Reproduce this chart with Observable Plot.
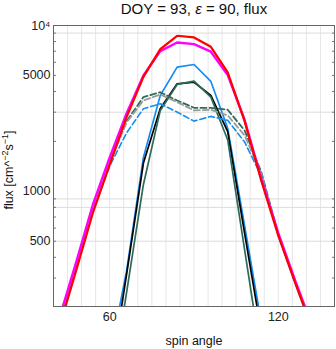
<!DOCTYPE html>
<html><head><meta charset="utf-8">
<script src="https://cdn.jsdelivr.net/npm/d3@7"></script>
<script src="https://cdn.jsdelivr.net/npm/@observablehq/plot@0.6"></script>
<style>body{margin:0;background:#fff}svg{display:block}</style>
</head><body><div id="chart"></div>
<script>
// spin angle samples (deg)
const angles = [42,48,54,60,66,72,78,84,90,96,102,108,114,120,126,132];
// flux series (cm^-2 s^-1); null = not drawn
const red      = [150,330,740,1450,2800,4900,7200,8670,8470,7440,5210,2650,1150,540,280,150];
const magenta  = [170,370,830,1600,2950,5000,7000,7900,7720,6950,5020,2700,1180,560,290,155];
const blueSolid= [null,null,null,100,330,1600,3790,5610,5820,4600,2400,620,160,null,null,null];
const black    = [null,null,null,70,315,1480,3160,4450,4550,3790,2290,560,140,null,null,null];
const greenSolid=[null,null,null,55,245,1100,3075,4410,4620,3700,2040,445,98,null,null,null];
const greenDash= [155,345,770,1500,2650,3700,3960,3530,3190,3190,3105,2330,1300,550,285,150];
const grayDash = [155,345,765,1490,2600,3530,3840,3450,3075,3105,2870,2175,1270,545,283,150];
const blueDash = [152,340,750,1420,2250,3150,3370,3005,2650,2830,2680,1985,1230,540,280,148];

const xTicks = [60,120];
const xGrid = d3.range(45,140,5);
const yTicks = [500,1000,5000,10000];
const yTickLabels = ["500","1000","5000","10⁴"];
const yGrid = [500,800,900,3000,9000];
const yMinor = [300,400,500,600,700,800,900,2000,3000,4000,5000,6000,7000,8000,9000];

const seriesDefs = [
  {values: blueSolid, stroke:"#168cf0", width:1.7, dash:null},
  {values: black, stroke:"#000000", width:1.7, dash:null},
  {values: greenSolid, stroke:"#2c6b5b", width:1.7, dash:null},
  {values: greenDash, stroke:"#2c6b5b", width:1.8, dash:"6,3"},
  {values: grayDash, stroke:"#9a9a9a", width:1.8, dash:"6,3"},
  {values: blueDash, stroke:"#168cf0", width:1.6, dash:"6,3"},
  {values: magenta, stroke:"#ff00ff", width:2.4, dash:null},
  {values: red, stroke:"#ff0000", width:2.2, dash:null}
];
const toRows = vals => angles.map((a,i)=>({a, v: vals[i]})).filter(d=>d.v!=null);
const yLabelRows = yTicks.map((v,i)=>({v, label: yTickLabels[i]}));

const W = 336, H = 349;
const FONT = "Liberation Sans, Arial, sans-serif";
const plot = Plot.plot({
  width: W, height: H,
  marginLeft: 53, marginRight: 2, marginTop: 25, marginBottom: 43,
  style: {fontFamily: FONT, fontSize: "12.5px", color:"#222"},
  x: {domain: [40,140], label: null},
  y: {type: "log", domain: [202,10000], label: null},
  marks: [
    Plot.gridX(xGrid, {stroke:"#e6e6e6", strokeOpacity:1}),
    Plot.gridY(yGrid, {stroke:"#dcdcdc", strokeOpacity:1}),
    ...seriesDefs.map(s => Plot.line(toRows(s.values), {x:"a", y:"v", stroke:s.stroke, strokeWidth:s.width, strokeDasharray:s.dash, clip:true})),
    Plot.axisX(xTicks, {tickSize: 0, tickPadding: 6, fontSize: 12.5}),
    Plot.text(yLabelRows, {y:"v", text:"label", frameAnchor:"left", textAnchor:"end", dx:-3, fontSize:12.5, fill:"#222"}),
    Plot.axisY(yMinor, {anchor:"right", tickSize: -3, text: null, stroke:"#777"}),
    Plot.axisY(yMinor, {anchor:"left", tickSize: -3, text: null, stroke:"#777"}),
    Plot.frame({stroke:"#666"})
  ]
});
const svg = d3.select(plot);
// title
const t = svg.append("text").attr("x", 194).attr("y", 14).attr("text-anchor","middle")
  .attr("font-family",FONT).attr("font-size",15).attr("fill","#111");
t.append("tspan").text("DOY = 93, ");
t.append("tspan").attr("font-style","italic").text("ε");
t.append("tspan").text(" = 90, flux");
// x label
svg.append("text").attr("x",194).attr("y",345).attr("text-anchor","middle")
  .attr("font-family",FONT).attr("font-size",12.5).attr("fill","#111").text("spin angle");
// y label
const yl = svg.append("text").attr("transform","translate(13,170) rotate(-90)").attr("text-anchor","middle")
  .attr("font-family",FONT).attr("font-size",12.5).attr("fill","#111");
yl.append("tspan").text("flux [cm^");
yl.append("tspan").attr("font-size",9).attr("dy",-5).text("−2");
yl.append("tspan").attr("dy",5).text("s");
yl.append("tspan").attr("font-size",9).attr("dy",-5).text("−1");
yl.append("tspan").attr("dy",5).text("]");
document.getElementById("chart").appendChild(plot);
</script>
</body></html>
